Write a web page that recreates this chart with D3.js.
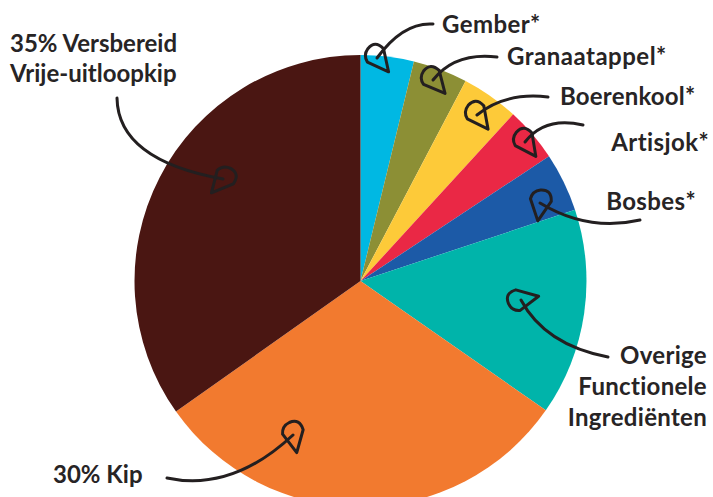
<!DOCTYPE html>
<html>
<head>
<meta charset="utf-8">
<script src="https://cdn.jsdelivr.net/npm/d3@7"></script>
<style>
  html, body { margin: 0; padding: 0; background: #ffffff; }
  svg { display: block; }
  text { font-family: Lato, "Open Sans", sans-serif; font-weight: 700; fill: #272425; }
</style>
</head>
<body>
<script>
// ---- data ----
const categories = ["Gember*", "Granaatappel*", "Boerenkool*", "Artisjok*", "Bosbes*",
  "Overige Functionele Ingrediënten", "30% Kip", "35% Versbereid Vrije-uitloopkip"];
const values = [3.8, 3.9, 4.1, 3.9, 4.2, 14.8, 30.5, 34.8];
const colors = ["#00b8e3", "#8c8f35", "#fdca39", "#ea2845", "#1c5aa7", "#00b4aa", "#f27a2f", "#4a1612"];

// label lines (text) per category
const labelLines = [
  ["Gember*"], ["Granaatappel*"], ["Boerenkool*"], ["Artisjok*"], ["Bosbes*"],
  ["Overige", "Functionele", "Ingrediënten"], ["30% Kip"], ["35% Versbereid", "Vrije-uitloopkip"]
];

// ---- layout (positions of annotations) ----
const W = 713, H = 497;
const cx = 360.5, cy = 281, R = 226;
const layout = [
  { x: 442, y: 33, anchor: "start", line: [[433,24],[403,22],[377,58]], tipAngle: 50, ls: 0.4 },
  { x: 507, y: 65, anchor: "start", line: [[497,57],[455,52],[433,80]], tipAngle: 48, ls: 0.5 },
  { x: 560, y: 105, anchor: "start", line: [[548,97],[505,92],[477,115]], tipAngle: 52, ls: 0.2 },
  { x: 709, y: 151, anchor: "end", line: [[583,125],[545,116],[525,142]], tipAngle: 53, ls: 0.4 },
  { x: 696, y: 210, anchor: "end", line: [[640,220],[588,232],[540,203]], tipAngle: 97, ls: 0.4 },
  { x: 707, y: 364, anchor: "end", line: [[608,357],[545,345],[521,300]], tipAngle: -12, dy: 31, ls: 0.3 },
  { x: 53, y: 483, anchor: "start", line: [[167,478],[232,492],[293,435]], tipAngle: 78, ls: 0 },
  { x: 10, y: 52, anchor: "start", line: [[117,98],[118,160],[223,179]], tipAngle: 130, dy: 30, ls: 0 }
];

const svg = d3.select("body").append("svg").attr("width", W).attr("height", H);

const pie = d3.pie().sort(null).value(d => d)(values);
const arc = d3.arc().innerRadius(0).outerRadius(R);

svg.append("g").attr("transform", `translate(${cx},${cy})`)
  .selectAll("path").data(pie).join("path")
  .attr("d", arc)
  .attr("fill", (d, i) => colors[i]);

// arrows
const ann = svg.append("g");
layout.forEach((L, i) => {
  const [s, c, e] = L.line;
  const p = d3.path();
  p.moveTo(s[0], s[1]);
  p.quadraticCurveTo(c[0], c[1], e[0], e[1]);
  ann.append("path").attr("d", p.toString())
    .attr("fill", "none").attr("stroke", "#231f20")
    .attr("stroke-width", 3).attr("stroke-linecap", "round");
  // cone-shaped head; tip along +x in local coordinates
  const head = "M18,0 L-3,-11 Q-15,-10 -13,1 Q-11,9 -3,10 Z";
  ann.append("path").attr("d", head)
    .attr("transform", `translate(${e[0]},${e[1]}) rotate(${L.tipAngle})`)
    .attr("fill", "none").attr("stroke", "#231f20")
    .attr("stroke-width", 3).attr("stroke-linejoin", "round");
});

// labels
layout.forEach((L, i) => {
  const t = svg.append("text")
    .attr("x", L.x).attr("y", L.y)
    .attr("text-anchor", L.anchor)
    .style("font-size", "24px")
    .style("letter-spacing", L.ls + "px");
  labelLines[i].forEach((ln, k) => {
    t.append("tspan").attr("x", L.x).attr("y", L.y + k * (L.dy || 30)).text(ln);
  });
});
</script>
</body>
</html>
